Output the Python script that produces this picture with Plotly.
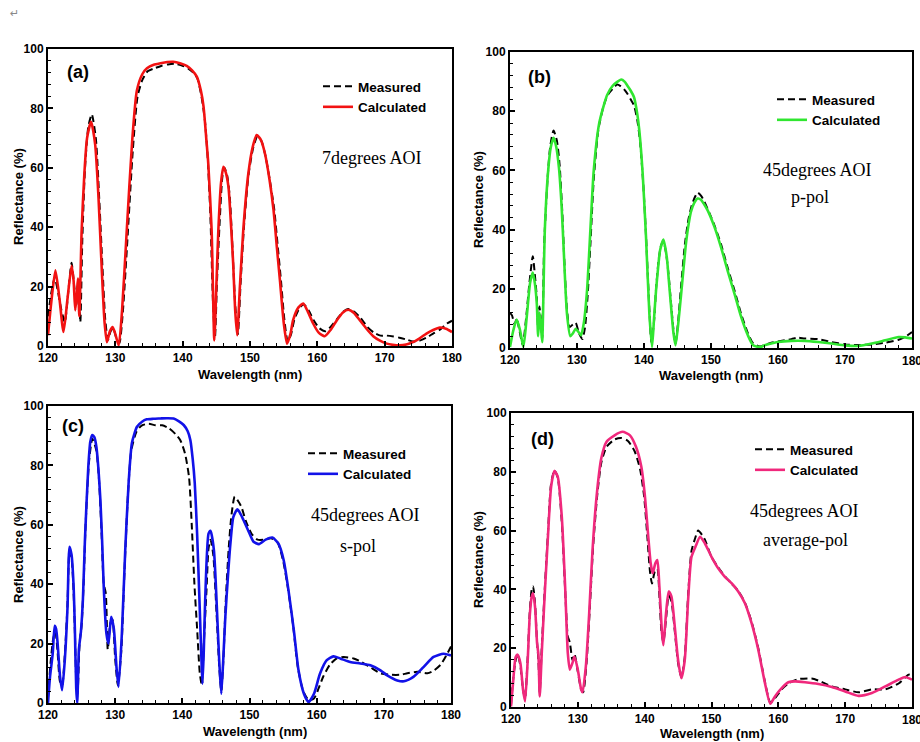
import plotly.graph_objects as go

# ---------------- data ----------------
# Panel (a) 7 degrees AOI
wl_a_calc = [120, 120.5, 121.1, 121.7, 122.3, 122.9, 123.5, 123.8, 124.05, 124.3, 124.45, 124.65, 125.0, 125.4, 125.8,
             126.4, 127.0, 127.5, 128.0, 128.4, 128.75, 129.2, 129.6, 130.0, 130.5, 131.0, 131.7, 132.5, 133.2, 134.0,
             134.7, 135.7, 136.7, 137.7, 138.6, 139.6, 140.6, 141.4, 142.1, 142.7, 143.1, 143.5, 143.8, 144.3, 144.7,
             145.0, 145.3, 145.7, 146.05, 146.4, 146.8, 147.2, 147.5, 147.8, 148.1, 148.5, 149.0, 149.75, 150.4, 151.0,
             151.6, 152.2, 152.9, 153.5, 154.0, 154.45, 155.0, 155.5, 156.0, 156.4, 157.2, 157.9, 158.6, 159.4, 160.2,
             161.1, 162.0, 162.9, 163.8, 164.6, 165.4, 166.3, 167.3, 168.3, 169.3, 170.3, 171.2, 172.2, 173.2, 174.2,
             175.2, 176.2, 177.2, 178.2, 179.1, 180]
calc_a = [3.6, 15, 25.5, 16, 4.7, 16, 27, 22, 12, 18, 22.7, 10, 39, 58, 70,
          75.5, 68, 50, 25, 8, 1.3, 5, 6.4, 4, 0.2, 12, 39, 69, 86, 91.5,
          93.5, 94.7, 95.2, 95.6, 95.7, 95.2, 94.3, 92.8, 90.7, 86, 80.6, 70, 61.5, 39, 1.9,
          20, 39, 55, 60.3, 58.5, 53.6, 40, 27.8, 12, 3.6, 20, 39, 58, 67, 71,
          69.5, 65, 56, 45.7, 33, 22, 8, 0.8, 4, 8.7, 13, 14.3, 11.5, 7.5, 4.5,
          3.3, 5.5, 8.7, 11.3, 12.2, 11.2, 8.7, 5.8, 3.3, 1.8, 0.8, 0.4, 0.2, 0.5, 1.3,
          2.6, 4.2, 5.4, 6.2, 5.8, 4.7]
wl_a_meas = [120, 120.5, 121.0, 121.5, 122.0, 122.5, 123.0, 123.5, 123.9, 124.2, 124.5, 124.8, 125.1, 125.5, 126.0,
             126.5, 127.1, 127.6, 128.1, 128.5, 128.9, 129.3, 129.7, 130.1, 130.6, 131.1, 131.8, 132.6, 133.3, 134.0,
             134.8, 135.8, 136.8, 137.8, 138.8, 139.8, 140.8, 141.6, 142.2, 142.8, 143.3, 143.7, 144.1, 144.5, 144.8,
             145.1, 145.5, 145.9, 146.2, 146.6, 147.0, 147.4, 147.8, 148.2, 148.6, 149.1, 149.8, 150.5, 151.1, 151.7,
             152.3, 153.0, 153.6, 154.1, 154.6, 155.1, 155.6, 156.1, 156.6, 157.4, 158.0, 158.7, 159.5, 160.3, 161.2,
             162.0, 162.9, 163.8, 164.6, 165.5, 166.4, 167.4, 168.4, 169.4, 170.3, 171.3, 172.2, 173.2, 174.2, 175.2,
             176.2, 177.2, 178.2, 179.2, 180]
meas_a = [10, 18, 23, 18, 12, 8, 18, 28, 20, 14, 22, 8, 36, 60, 74,
          78, 70, 50, 26, 9, 2, 5, 6, 3, 1, 11, 36, 66, 84, 89.5,
          92.5, 93.5, 94.3, 94.8, 95, 94.5, 93.5, 92, 90, 84, 76, 64, 45, 15, 3,
          22, 42, 57, 60, 57.5, 50, 33, 14, 4, 21, 40, 58, 67, 70.5, 69,
          64, 55, 46, 34, 22, 9, 1.5, 4, 9, 13, 14, 12, 8.5, 6, 5,
          6.5, 9, 11.5, 12.5, 11.5, 9.5, 6.5, 4.5, 3.5, 3.5, 3.2, 2.8, 2.2, 1.5, 1.8,
          2.8, 4.2, 5.5, 7.5, 8.5]

# Panel (b) 45 degrees AOI p-pol
wl_b_calc = [120, 120.5, 121.0, 121.5, 122.0, 122.5, 123.0, 123.4, 123.7, 124.0, 124.2, 124.4, 124.6, 124.8, 125.2,
             125.7, 126.1, 126.5, 126.9, 127.3, 127.7, 128.0, 128.5, 129.0, 129.4, 129.8, 130.2, 130.6, 131.0, 131.5,
             132.0, 132.5, 133.3, 134.0, 134.5, 135.3, 136.0, 136.6, 137.1, 137.5, 138.0, 138.5, 139.0, 139.3, 139.8,
             140.3, 140.8, 141.2, 141.5, 141.8, 142.1, 142.4, 142.9, 143.4, 143.7, 144.0, 144.4, 144.7, 145.1, 145.5,
             146.2, 146.6, 147.0, 147.5, 148.0, 148.5, 149.0, 149.5, 150.5, 151.5, 152.5, 153.5, 154.5, 155.5, 156.3,
             157.3, 158.0, 159.0, 160.0, 162.0, 164.0, 166.0, 168.0, 170.0, 172.0, 174.0, 176.0, 178.0, 179.0, 180]
calc_b = [0.3, 6, 9.6, 6, 0.3, 10.5, 22, 25.5, 22, 15, 4, 12, 8, 2, 40,
          60, 68, 71, 68, 61, 48, 34, 11.6, 4, 5, 6.5, 5.5, 4.3, 8.2, 19.5,
          40, 60, 75.8, 82, 85.5, 88.5, 89.9, 90.7, 90, 88.7, 87, 84.8, 79, 73.5, 59,
          37.5, 11.6, 0.3, 10, 19.5, 27, 33, 36.6, 30.7, 23, 15, 5, 0.9, 8, 17.2,
          34, 41, 46, 49, 50.5, 50.1, 48.5, 46.5, 41, 34, 26, 18.4, 10.5, 4.3, 0.9,
          0.3, 0.9, 1.5, 2, 2.4, 2.4, 2, 1.5, 0.9, 0.7, 1.5, 2.6, 3.7, 3.6, 3.2]
wl_b_meas = [120, 120.3, 120.7, 121.0, 121.4, 121.9, 122.4, 122.9, 123.4, 123.7, 124.0, 124.2, 124.4, 124.6, 124.8,
             125.1, 125.6, 126.0, 126.5, 127.0, 127.4, 127.8, 128.1, 128.5, 128.9, 129.4, 129.8, 130.3, 130.8, 131.2,
             131.6, 132.0, 132.5, 133.2, 134.0, 134.6, 135.3, 136.0, 136.5, 137.0, 137.5, 138.0, 138.5, 139.0, 139.4,
             139.9, 140.3, 140.8, 141.1, 141.5, 141.8, 142.2, 142.6, 142.9, 143.3, 143.7, 144.0, 144.4, 144.7, 145.1,
             145.5, 146.1, 146.6, 147.1, 147.6, 148.0, 148.5, 149.0, 149.5, 150.5, 151.5, 152.5, 153.5, 154.5, 155.5,
             156.3, 157.3, 158.0, 159.0, 160.0, 162.0, 163.0, 164.0, 166.0, 168.0, 170.0, 172.0, 174.0, 176.0, 178.0,
             179.0, 180]
meas_b = [12, 11, 8, 10, 6, 1, 10, 22, 31, 25, 17, 6, 14, 9, 3,
          35, 57, 68, 73.5, 70, 62, 46, 30, 13, 7, 8, 8.5, 5, 3, 7,
          18, 35, 57, 74, 82, 85.5, 87.5, 89, 88.5, 87.5, 86, 84, 82, 77, 70,
          55, 38, 13, 2, 9, 20, 30, 35, 36, 32, 24, 16, 6, 1.5, 9,
          20, 35, 43, 48, 51, 52.5, 51.5, 49.5, 47, 41.5, 35, 27, 19.5, 11.5, 5,
          1.5, 0.5, 1, 1.8, 2.2, 3, 3.5, 3.2, 3, 2, 1.2, 1, 1.2, 1.8, 2.8,
          3.8, 5.4]

# Panel (c) 45 degrees AOI s-pol
wl_c_calc = [120, 120.3, 120.7, 121.0, 121.2, 121.4, 121.8, 122.1, 122.5, 122.9, 123.2, 123.5, 123.8, 124.0, 124.2,
             124.35, 124.6, 124.9, 125.2, 125.5, 126.0, 126.3, 126.6, 126.9, 127.2, 127.5, 127.8, 128.05, 128.3, 128.7,
             129.0, 129.4, 129.8, 130.2, 130.5, 131.0, 131.5, 132.0, 132.5, 133.25, 134.0, 134.7, 135.7, 136.7, 137.7,
             138.7, 139.5, 140.2, 140.8, 141.2, 141.55, 141.85, 142.2, 142.55, 142.85, 143.0, 143.2, 143.4, 143.9, 144.2,
             144.7, 145.2, 145.5, 145.8, 146.1, 146.4, 146.8, 147.15, 147.6, 148.2, 148.7, 149.1, 149.9, 150.6, 151.4,
             152.4, 153.4, 154.3, 155.1, 155.8, 156.6, 157.3, 158.1, 158.8, 159.6, 160.5, 161.5, 162.5, 163.5, 165.0,
             166.5, 168.0, 169.5, 170.5, 172.0, 173.0, 174.4, 175.9, 177.4, 178.9, 180]
calc_c = [0, 8.8, 16.6, 26, 25, 21, 8.8, 4.3, 14.4, 32, 52.6, 50, 40, 25, 5,
          0, 18, 24, 35, 55, 79.5, 88, 90.2, 89.5, 86.3, 79, 68.3, 55, 39, 23.4,
          20, 29, 25, 12, 5.4, 23.4, 51.5, 74, 87.6, 93, 94.7, 95.5, 95.7, 95.8, 95.9,
          95.8, 94.8, 93.6, 91.5, 88.5, 82, 74, 57, 34.6, 14.4, 6.5, 18, 34.6, 57, 58,
          51.5, 29, 14, 3.1, 15, 29, 43, 53.5, 62.7, 65.2, 63.5, 61.6, 57.6, 54.3, 53.5,
          55, 55.7, 53.7, 48, 38, 24.5, 11, 3.1, 0.3, 3.1, 9.9, 14.4, 15.7, 15, 13.8,
          13.3, 12.7, 11, 9.3, 7.6, 7.3, 8.8, 12.1, 15.5, 16.6, 16]
wl_c_meas = [120, 120.4, 120.8, 121.1, 121.4, 121.8, 122.1, 122.5, 122.9, 123.2, 123.5, 123.8, 124.0, 124.2, 124.4,
             124.7, 125.0, 125.3, 125.6, 126.1, 126.6, 127.2, 127.6, 128.0, 128.3, 128.6, 128.9, 129.3, 129.6, 130.0,
             130.4, 130.9, 131.4, 131.9, 132.4, 133.2, 134.0, 135.0, 136.0, 137.0, 138.0, 139.0, 139.7, 140.4, 141.0,
             141.4, 141.8, 142.2, 142.6, 142.9, 143.2, 143.6, 143.9, 144.2, 144.6, 145.1, 145.5, 145.8, 146.1, 146.5,
             146.9, 147.3, 147.8, 148.3, 148.8, 149.5, 150.3, 151.2, 152.2, 153.2, 154.2, 155.0, 155.7, 156.5, 157.2,
             158.0, 158.8, 159.6, 160.3, 161.0, 162.0, 163.0, 164.0, 165.5, 166.5, 168.0, 169.5, 171.0, 172.5, 173.5,
             175.0, 176.5, 177.5, 178.5, 179.3, 180]
meas_c = [2, 14, 22, 24, 18, 7, 6, 16, 33, 51, 49, 38, 24, 8, 3,
          20, 26, 40, 60, 81, 89, 85, 75, 56, 40, 37, 18, 27, 28, 15,
          6, 17, 45, 70, 85, 91.5, 93.5, 94, 93.5, 93.5, 92.5, 90.5, 88.5, 84, 76,
          60, 40, 25, 10, 6, 20, 38, 52, 55, 50, 30, 12, 4, 14, 36,
          52, 63, 69.5, 68, 66, 61, 57, 55, 55, 55.5, 54, 48, 39, 26, 12,
          4, 1, 1.5, 5, 9, 13, 15, 15.5, 15, 14, 12, 10, 9.5, 9.5, 10,
          10.5, 10, 11, 13, 16, 19]

# Panel (d) 45 degrees AOI average-pol
wl_d_calc = [120, 120.3, 120.7, 121.0, 121.4, 121.8, 122.1, 122.5, 122.8, 123.1, 123.3, 123.6, 123.9, 124.1, 124.3,
             124.6, 125.0, 125.5, 126.0, 126.5, 127.0, 127.6, 128.1, 128.5, 128.8, 129.2, 129.5, 130.0, 130.5, 130.7,
             131.2, 131.7, 132.2, 132.8, 133.5, 134.3, 135.5, 136.7, 137.8, 138.7, 139.5, 140.0, 140.5, 140.9, 141.2,
             141.6, 141.9, 142.2, 142.6, 142.8, 143.2, 143.6, 144.0, 144.5, 145.0, 145.5, 146.0, 146.5, 147.0, 147.6,
             148.3, 149.0, 150.0, 151.0, 152.0, 153.0, 154.0, 155.0, 156.0, 157.0, 158.0, 158.8, 159.5, 160.5, 161.5,
             162.5, 164.0, 166.0, 168.0, 170.0, 172.0, 174.0, 176.0, 178.0, 179.0, 180]
calc_d = [0.2, 8, 17, 17.8, 15, 5.9, 1.9, 16, 30.8, 37.6, 38.7, 34, 21.7, 18, 3.6,
          18.3, 36.4, 56.8, 74.9, 80.3, 78.3, 64.7, 41, 18.3, 12.7, 15, 17.2, 12.7, 5.9, 5,
          13.8, 31.9, 53.4, 71.5, 84.5, 90.2, 92.4, 93.6, 92.4, 88.5, 81.7, 72.6, 59, 48.9, 45.5,
          48.9, 50, 41, 25, 21, 31.9, 39.3, 37.6, 27.4, 16, 9.8, 16, 36.4, 51, 54.5,
          57.9, 55.7, 51.1, 47.2, 44.3, 42.1, 39.3, 35.3, 28.5, 19.5, 8.1, 1.1, 3.6, 6.4, 8.4,
          8.7, 8.4, 7.8, 6.8, 5.3, 3.8, 4.75, 7, 9.3, 10.2, 9.3]
wl_d_meas = [120, 120.3, 120.7, 121.0, 121.4, 121.8, 122.1, 122.5, 122.8, 123.1, 123.3, 123.6, 123.9, 124.1, 124.3,
             124.6, 125.0, 125.5, 126.0, 126.5, 127.0, 127.6, 128.1, 128.5, 128.8, 129.2, 129.5, 130.0, 130.5, 130.8,
             131.3, 131.8, 132.3, 132.9, 133.5, 134.3, 135.5, 136.5, 137.5, 138.5, 139.3, 139.9, 140.4, 140.8, 141.1,
             141.5, 141.9, 142.2, 142.5, 142.8, 143.2, 143.6, 144.0, 144.5, 145.0, 145.5, 146.0, 146.5, 147.0, 147.5,
             148.0, 148.6, 149.0, 150.0, 151.0, 152.0, 153.0, 154.0, 155.0, 156.0, 157.0, 158.0, 158.8, 159.5, 160.5,
             161.5, 163.0, 165.0, 166.0, 168.0, 170.0, 172.0, 174.0, 176.0, 178.0, 179.5, 180]
meas_d = [0.5, 9, 16, 18, 14, 6, 3, 17, 32, 40, 41, 35, 22, 16, 5,
          20, 38, 58, 76, 80.5, 78, 63, 40, 24, 22, 16, 18, 12, 6, 5,
          15, 34, 55, 72, 83, 88.5, 91, 91.5, 90.5, 87, 81, 72, 58, 46, 42,
          46, 47, 38, 26, 22, 30, 38, 36, 26, 15, 10, 17, 38, 53, 57,
          60, 58.5, 57, 51, 47.5, 44.5, 42, 39.5, 35.5, 29, 20, 8.5, 1.5, 3, 6,
          8, 9.5, 9.7, 9, 7, 6, 5, 6, 6, 8, 11, 11]

x_ticks = [120, 130, 140, 150, 160, 170, 180]
y_ticks = [0, 20, 40, 60, 80, 100]
panel_labels = ["(a)", "(b)", "(c)", "(d)"]
panel_notes = [["7degrees AOI"], ["45degrees AOI", "p-pol"], ["45degrees AOI", "s-pol"], ["45degrees AOI", "average-pol"]]
series_names = ["Measured", "Calculated"]
x_title = "Wavelength (nm)"
y_title = "Reflectance (%)"
calc_colors = ["#f21212", "#30e630", "#1212e8", "#f0287c"]

# ---------------- figure ----------------
W, H = 920, 742
def px(x):
    return x / W
def py(y):
    return 1 - y / H

# panel boxes in pixels: (left, right, top, bottom)
boxes = [(48, 452, 49, 346), (510, 912, 52, 348), (48, 451, 406, 703), (511, 912, 413, 707)]

meas_sets = [(wl_a_meas, meas_a), (wl_b_meas, meas_b), (wl_c_meas, meas_c), (wl_d_meas, meas_d)]
calc_sets = [(wl_a_calc, calc_a), (wl_b_calc, calc_b), (wl_c_calc, calc_c), (wl_d_calc, calc_d)]

fig = go.Figure()
tick_font = dict(family="Liberation Sans, Arial", size=12, color="black", weight="bold")
title_font = dict(family="Liberation Sans, Arial", size=13, color="black", weight="bold")

legend_pos = [(318, 71), (772, 84), (303, 438), (750, 434)]
label_pos = [(78, 72), (539, 77), (73, 426), (542, 439)]
note_pos = [[(371, 158)], [(817, 170), (810, 197)], [(365, 515), (358, 546)], [(804, 511), (805, 540)]]
xtitle_pos = [(250, 374), (711, 375), (255, 731), (712, 733)]
ytitle_pos = [(18, 197), (478, 200), (18, 555), (478, 560)]

for i in range(4):
    sfx = "" if i == 0 else str(i + 1)
    leg = "legend" if i == 0 else "legend" + str(i + 1)
    xs, ys = meas_sets[i]
    fig.add_trace(go.Scatter(x=xs, y=ys, mode="lines", name=series_names[0],
                             line=dict(color="black", width=2, dash="7px,4px", shape="spline", smoothing=0.6),
                             xaxis="x" + sfx, yaxis="y" + sfx, legend=leg))
    xs, ys = calc_sets[i]
    fig.add_trace(go.Scatter(x=xs, y=ys, mode="lines", name=series_names[1],
                             line=dict(color=calc_colors[i], width=2.6, shape="spline", smoothing=0.6),
                             xaxis="x" + sfx, yaxis="y" + sfx, legend=leg))
    l, r, t, b = boxes[i]
    axcommon = dict(showline=True, linecolor="black", linewidth=2, mirror=True, ticks="inside",
                    tickcolor="black", tickwidth=1.5, ticklen=5, showgrid=False, zeroline=False,
                    tickfont=tick_font, automargin=False, fixedrange=True)
    fig.layout["xaxis" + sfx] = dict(domain=[px(l), px(r)], anchor="y" + sfx, range=[120, 180],
                                     tickvals=x_ticks, ticktext=[str(v) for v in x_ticks],
                                     minor=dict(ticks="inside", dtick=2, tick0=120, ticklen=3, tickcolor="black", tickwidth=1.2),
                                     **axcommon)
    fig.layout["yaxis" + sfx] = dict(domain=[py(b), py(t)], anchor="x" + sfx, range=[0, 100],
                                     tickvals=y_ticks, ticktext=[str(v) for v in y_ticks],
                                     minor=dict(ticks="inside", dtick=4, tick0=0, ticklen=3, tickcolor="black", tickwidth=1.2),
                                     **axcommon)
    # the rightmost tick label of the right-hand panels is clipped by the page edge in the reference
    if i in (1, 3):
        fig.add_annotation(x=180, y=py(b + 13), xref="x" + sfx, yref="paper", text=str(x_ticks[-1]),
                           showarrow=False, xanchor="center", yanchor="middle", font=tick_font)
    lx, ly = legend_pos[i]
    fig.layout[leg] = dict(x=px(lx), y=py(ly), xanchor="left", yanchor="top", bgcolor="rgba(0,0,0,0)",
                           font=dict(family="Liberation Sans, Arial", size=13.5, color="black", weight="bold"),
                           tracegroupgap=0, itemwidth=30)
    ax, ay = label_pos[i]
    fig.add_annotation(x=px(ax), y=py(ay), xref="paper", yref="paper", text=panel_labels[i], showarrow=False,
                       xanchor="center", yanchor="middle",
                       font=dict(family="Liberation Sans, Arial", size=18, color="black", weight="bold"))
    for (nx, ny), line_txt in zip(note_pos[i], panel_notes[i]):
        fig.add_annotation(x=px(nx), y=py(ny), xref="paper", yref="paper", text=line_txt, showarrow=False,
                           xanchor="center", yanchor="middle",
                           font=dict(family="Liberation Serif, Times New Roman", size=18, color="black"))
    tx, ty = xtitle_pos[i]
    fig.add_annotation(x=px(tx), y=py(ty), xref="paper", yref="paper", text=x_title, showarrow=False,
                       xanchor="center", yanchor="middle", font=title_font)
    tx, ty = ytitle_pos[i]
    fig.add_annotation(x=px(tx), y=py(ty), xref="paper", yref="paper", text=y_title, showarrow=False,
                       xanchor="center", yanchor="middle", textangle=-90, font=title_font)

fig.add_annotation(x=px(14), y=py(13), xref="paper", yref="paper", text="↵", showarrow=False,
                   xanchor="center", yanchor="middle",
                   font=dict(family="DejaVu Sans", size=11, color="#888888"))

fig.update_layout(width=W, height=H, margin=dict(l=0, r=0, t=0, b=0), paper_bgcolor="white",
                  plot_bgcolor="white", showlegend=True)

fig.write_html("out.html", config={"displayModeBar": False},
               post_script="document.body.style.margin='0px';")
